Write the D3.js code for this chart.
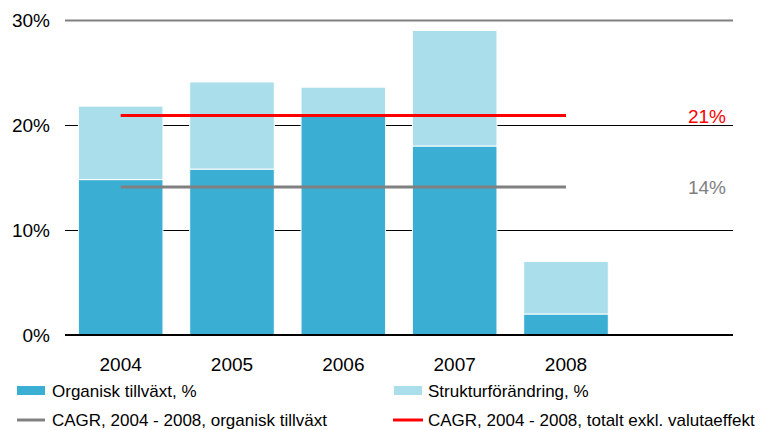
<!DOCTYPE html>
<html><head><meta charset="utf-8">
<script src="https://cdn.jsdelivr.net/npm/d3@7"></script>
<style>body{margin:0;background:#fff}svg{display:block;font-family:"Liberation Sans",Arial,sans-serif}</style>
</head><body>
<svg id="c" width="768" height="430"></svg>
<script>
const categories = ["2004","2005","2006","2007","2008",""];
const organic = [14.8, 15.8, 20.9, 18.0, 2.0];
const structural = [7.0, 8.3, 2.7, 11.0, 5.0];
const cagrOrganic = 14.1;
const cagrTotal = 20.9;
const cagrOrganicLabel = "14%";
const cagrTotalLabel = "21%";
const yTicks = [0, 10, 20, 30];
const legendLabels = ["Organisk tillväxt, %","Strukturförändring, %","CAGR, 2004 - 2008, organisk tillväxt","CAGR, 2004 - 2008, totalt exkl. valutaeffekt"];

const svg = d3.select("#c");
const L = 65, R = 733, T = 20, B = 335;
const x = d3.scaleBand().domain(categories).range([L, R]).paddingInner(0.24).paddingOuter(0.12);
const y = d3.scaleLinear().domain([0, 30]).range([B, T]);
const C1 = "#3aafd3", C2 = "#aadeeb";

// gridlines
svg.append("g").selectAll("line").data(yTicks.filter(d => d > 0)).join("line")
  .attr("x1", L).attr("x2", R).attr("y1", d => y(d) + 0.5).attr("y2", d => y(d) + 0.5)
  .attr("stroke", d => d === 30 ? "#808080" : "#000")
  .attr("stroke-width", d => d === 30 ? 2 : 1);

// y labels
svg.append("g").selectAll("text").data(yTicks).join("text")
  .attr("x", 50).attr("y", d => y(d) + 7).attr("text-anchor", "end")
  .attr("font-size", 19).attr("fill", "#000").text(d => d + "%");

const yrs = categories.slice(0, 5);
// bars
svg.append("g").selectAll("rect").data(yrs).join("rect")
  .attr("x", d => x(d)).attr("width", x.bandwidth())
  .attr("y", (d, i) => y(organic[i])).attr("height", (d, i) => y(0) - y(organic[i]))
  .attr("fill", C1).attr("stroke", "#fff").attr("stroke-width", 1);
svg.append("g").selectAll("rect").data(yrs).join("rect")
  .attr("x", d => x(d)).attr("width", x.bandwidth())
  .attr("y", (d, i) => y(organic[i] + structural[i])).attr("height", (d, i) => y(organic[i]) - y(organic[i] + structural[i]))
  .attr("fill", C2).attr("stroke", "#fff").attr("stroke-width", 1);

// zero line on top
svg.append("line").attr("x1", L).attr("x2", R).attr("y1", y(0)).attr("y2", y(0)).attr("stroke", "#000").attr("stroke-width", 2);

// CAGR lines
const cx = d => x(d) + x.bandwidth() / 2;
svg.append("line").attr("x1", cx("2004")).attr("x2", cx("2008"))
  .attr("y1", y(cagrTotal)).attr("y2", y(cagrTotal)).attr("stroke", "#ff0000").attr("stroke-width", 3);
svg.append("line").attr("x1", cx("2004")).attr("x2", cx("2008"))
  .attr("y1", y(cagrOrganic)).attr("y2", y(cagrOrganic)).attr("stroke", "#808080").attr("stroke-width", 3);
svg.append("text").attr("x", 726).attr("y", y(cagrTotal) + 7).attr("text-anchor", "end")
  .attr("font-size", 19).attr("fill", "#ff0000").text(cagrTotalLabel);
svg.append("text").attr("x", 726).attr("y", y(cagrOrganic) + 7).attr("text-anchor", "end")
  .attr("font-size", 19).attr("fill", "#808080").text(cagrOrganicLabel);

// x labels
svg.append("g").selectAll("text").data(yrs).join("text")
  .attr("x", d => cx(d)).attr("y", 371).attr("text-anchor", "middle")
  .attr("font-size", 19).attr("fill", "#000").text(d => d);

// legend
const lg = svg.append("g").attr("font-size", 17).attr("fill", "#000");
lg.append("rect").attr("x", 17).attr("y", 386).attr("width", 28).attr("height", 9).attr("fill", C1);
lg.append("rect").attr("x", 394).attr("y", 386).attr("width", 28).attr("height", 9).attr("fill", C2);
lg.append("line").attr("x1", 17).attr("x2", 45).attr("y1", 420).attr("y2", 420).attr("stroke", "#808080").attr("stroke-width", 3);
lg.append("line").attr("x1", 393).attr("x2", 423).attr("y1", 420).attr("y2", 420).attr("stroke", "#ff0000").attr("stroke-width", 3);
lg.selectAll("text").data(legendLabels).join("text")
  .attr("x", (d, i) => i % 2 ? 428 : 52).attr("y", (d, i) => i < 2 ? 397 : 426).text(d => d);
</script>
</body></html>
